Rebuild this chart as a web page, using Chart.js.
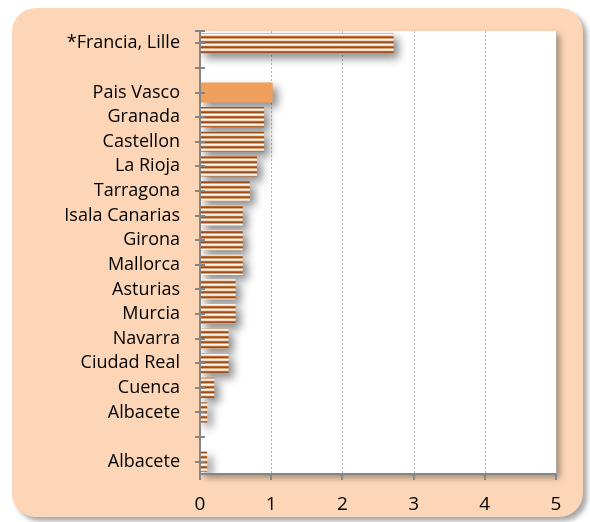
<!DOCTYPE html>
<html>
<head>
<meta charset="utf-8">
<script src="https://cdn.jsdelivr.net/npm/chart.js@4"></script>
<style>
  html, body { margin: 0; padding: 0; background: #fff; }
  canvas { display: block; }
</style>
</head>
<body>
<canvas id="chart" width="590" height="522"></canvas>
<script>
// data
const categories = ['*Francia, Lille', '', 'Pais Vasco', 'Granada', 'Castellon', 'La Rioja', 'Tarragona',
  'Isala Canarias', 'Girona', 'Mallorca', 'Asturias', 'Murcia', 'Navarra', 'Ciudad Real', 'Cuenca',
  'Albacete', '', 'Albacete'];
const values = [2.72, null, 1.02, 0.9, 0.9, 0.8, 0.7, 0.6, 0.6, 0.6, 0.5, 0.5, 0.4, 0.4, 0.2, 0.1, null, 0.1];
const highlighted = ['Pais Vasco'];
const xTicks = [0, 1, 2, 3, 4, 5];

// striped fill for the bars
function stripes() {
  const c = document.createElement('canvas');
  c.width = 4; c.height = 5;
  const g = c.getContext('2d');
  const rows = ['#f0d8c4', '#b86a30', '#9c4c16', '#dca478', '#fdf8f4'];
  rows.forEach((col, i) => { g.fillStyle = col; g.fillRect(0, i, 4, 1); });
  return g.createPattern(c, 'repeat');
}
const stripeFill = stripes();

function roundRect(ctx, x, y, w, h, r) {
  ctx.beginPath();
  ctx.moveTo(x + r, y);
  ctx.arcTo(x + w, y, x + w, y + h, r);
  ctx.arcTo(x + w, y + h, x, y + h, r);
  ctx.arcTo(x, y + h, x, y, r);
  ctx.arcTo(x, y, x + w, y, r);
  ctx.closePath();
}

const frame = {
  id: 'frame',
  beforeDraw(chart) {
    const { ctx, chartArea: a } = chart;
    ctx.save();
    ctx.fillStyle = '#ffffff';
    ctx.fillRect(0, 0, chart.width, chart.height);
    // peach panel
    ctx.shadowColor = 'rgba(0,0,0,0.35)';
    ctx.shadowOffsetX = 4; ctx.shadowOffsetY = 4; ctx.shadowBlur = 5;
    ctx.fillStyle = '#fcd6b6';
    roundRect(ctx, 12, 8, 571, 509, 24);
    ctx.fill();
    // plot area
    ctx.shadowColor = 'rgba(0,0,0,0.35)';
    ctx.shadowOffsetX = 4; ctx.shadowOffsetY = 4; ctx.shadowBlur = 6;
    ctx.fillStyle = '#ffffff';
    ctx.fillRect(a.left, a.top, a.right - a.left, a.bottom - a.top);
    ctx.restore();

    // dotted grid
    const x = chart.scales.x;
    ctx.save();
    ctx.strokeStyle = '#b4b4b4';
    ctx.lineWidth = 1;
    ctx.setLineDash([2, 2]);
    xTicks.slice(1).forEach(v => {
      const px = Math.round(x.getPixelForValue(v)) + 0.5;
      ctx.beginPath();
      ctx.moveTo(px, a.top);
      ctx.lineTo(px, a.bottom);
      ctx.stroke();
    });
    ctx.restore();
  },
  beforeDatasetsDraw(chart) {
    const ctx = chart.ctx;
    ctx.save();
    ctx.shadowColor = 'rgba(0,0,0,0.45)';
    ctx.shadowOffsetX = 5; ctx.shadowOffsetY = 5; ctx.shadowBlur = 8;
  },
  afterDatasetsDraw(chart) {
    const { ctx, chartArea: a, scales: { x, y } } = chart;
    ctx.restore();
    ctx.save();
    ctx.strokeStyle = '#868686';
    ctx.lineWidth = 2;
    // axes
    ctx.beginPath();
    ctx.moveTo(a.left, a.top);
    ctx.lineTo(a.left, a.bottom);
    ctx.lineTo(a.right, a.bottom);
    ctx.stroke();
    // category ticks crossing the axis
    ctx.beginPath();
    ctx.moveTo(a.left - 5, a.top);
    ctx.lineTo(a.left + 5, a.top);
    categories.forEach((c, i) => {
      const py = Math.round(y.getPixelForValue(i));
      ctx.moveTo(a.left - 5, py);
      ctx.lineTo(a.left + 5, py);
    });
    // value ticks
    xTicks.forEach(v => {
      const px = Math.round(x.getPixelForValue(v));
      ctx.moveTo(px, a.bottom);
      ctx.lineTo(px, a.bottom + 6);
    });
    ctx.stroke();
    ctx.restore();
  }
};

new Chart(document.getElementById('chart'), {
  type: 'bar',
  data: {
    labels: categories,
    datasets: [{
      data: values,
      backgroundColor: categories.map(c => highlighted.includes(c) ? '#f0a05c' : stripeFill),
      borderWidth: 0,
      barPercentage: 0.82,
      categoryPercentage: 1
    }]
  },
  options: {
    indexAxis: 'y',
    responsive: false,
    animation: false,
    layout: { padding: { left: 0, right: 34, top: 31, bottom: 0 } },
    plugins: { legend: { display: false }, tooltip: { enabled: false } },
    scales: {
      x: {
        min: 0,
        max: 5,
        afterFit(scale) { scale.height = 48; },
        grid: { display: false },
        border: { display: false },
        ticks: {
          stepSize: 1,
          padding: 11,
          color: '#000',
          font: { family: 'Open Sans', size: 19 }
        }
      },
      y: {
        afterFit(scale) { scale.width = 200; },
        grid: { display: false },
        border: { display: false },
        ticks: {
          autoSkip: false,
          padding: 12,
          color: '#000',
          font: { family: 'Open Sans', size: 18 }
        }
      }
    }
  },
  plugins: [frame]
});
</script>
</body>
</html>
